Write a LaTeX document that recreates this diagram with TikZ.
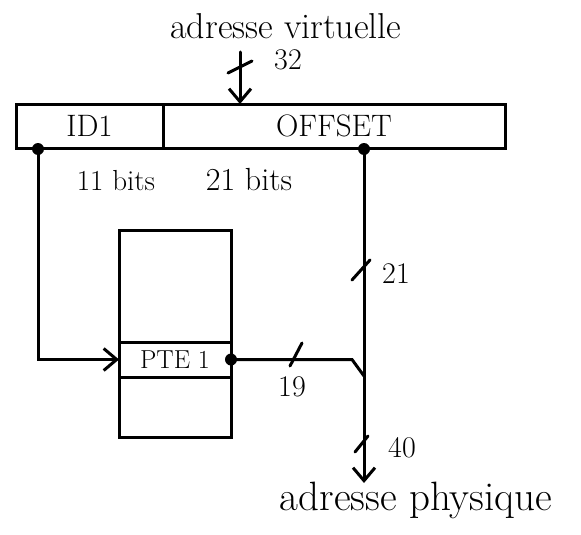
\documentclass[tikz,border=0pt]{standalone}
\usepackage{fontspec}
\usetikzlibrary{arrows.meta,positioning}
\tikzset{
  wire/.style={line width=3pt, line cap=round},
  field/.style={draw, line width=3pt, minimum height=44pt, inner sep=0pt, outer sep=0pt,
    font=\fontsize{31}{36}\selectfont},
  dot/.style={circle, fill, inner sep=0pt, minimum size=12pt},
  big label/.style={font=\fontsize{36}{42}\selectfont, anchor=base},
  width tag/.style={font=\fontsize{30}{34}\selectfont, anchor=base},
}

\begin{document}
\begin{tikzpicture}[x=1pt, y=-1pt, >={Straight Barb[length=13pt, width=22pt]}]
  \useasboundingbox (0,0) rectangle (581,535);

  % Virtual address register
  \node[field, minimum width=147pt, anchor=north west] (id1) at (16,104) {ID1};
  \node[field, minimum width=342pt, right=0pt of id1] (offset) {OFFSET};

  % Page table with entry PTE 1
  \node[draw, line width=3pt, minimum width=112pt, minimum height=207pt, outer sep=0pt,
    anchor=north west] (table) at (119,230) {};
  \node[draw, line width=3pt, minimum width=112pt, minimum height=35pt, outer sep=0pt,
    anchor=north west, font=\fontsize{26}{30}\selectfont] (pte) at (119,342) {PTE 1};

  % Tap points
  \node[dot] (dId) at (38,149) {};
  \node[dot] (dOff) at (364,149) {};
  \node[dot] (dPte) at (pte.east) {};

  % Labels
  \node[big label] (virt) at (286,39) {adresse virtuelle};
  \node[big label, font=\fontsize{41}{47}\selectfont] (phys) at (416,510) {adresse physique};
  \node[width tag, font=\fontsize{29}{33}\selectfont] (bits11) at (116,190) {11 bits};
  \node[width tag, font=\fontsize{32}{36}\selectfont] (bits21) at (249,190) {21 bits};
  \node[width tag] (w32) at (288,70) {32};
  \node[width tag] (w21) at (396,283) {21};
  \node[width tag] (w40) at (402,457) {40};
  \node[width tag] (w19) at (292,396) {19};

  \coordinate (in) at (240,52);
  \coordinate (kink) at (352,359.5);
  \coordinate (join) at (364,376);
  \coordinate (out) at (364,483);

  % Wires
  \draw[wire, ->] (in) -- (in |- id1.north);
  \draw[wire, ->] (dId.center) |- (pte.west);
  \draw[wire] (dPte.center) -- (kink) -- (join);
  \draw[wire, ->] (dOff.center) -- (out);

  % Bus width ticks
  \foreach \a/\b/\c/\d in {228/73/252/61, 352/280/370/260, 355/452/368/436, 290/366/302/343}
    \draw[wire] (\a,\b) -- (\c,\d);

\end{tikzpicture}
\end{document}
